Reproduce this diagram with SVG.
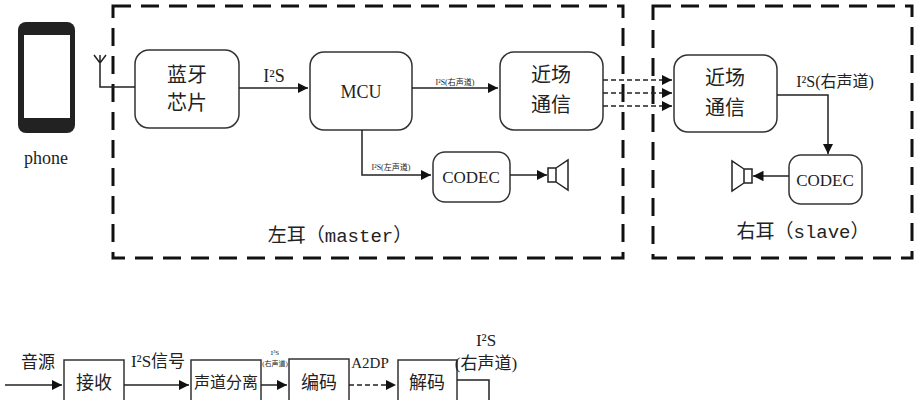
<svg xmlns="http://www.w3.org/2000/svg" width="917" height="400" viewBox="0 0 917 400">
<style>
.b{fill:#fff;stroke:#333;stroke-width:1.5}
.t{font-family:"Liberation Serif","Noto Sans CJK SC",serif;fill:#222;text-anchor:middle}
.m{font-family:"Liberation Mono","Noto Sans CJK SC",monospace;fill:#222;text-anchor:middle}
.l{fill:none;stroke:#222;stroke-width:1.5}
.d{fill:none;stroke:#222;stroke-width:1.5;stroke-dasharray:5,3}
.g{fill:none;stroke:#111;stroke-width:3;stroke-dasharray:18,10}
</style>
<defs>
<marker id="a" viewBox="0 0 10 10" refX="10" refY="5" markerWidth="7" markerHeight="7" orient="auto"><path d="M0,0L10,5L0,10z" fill="#111"/></marker>
</defs>
<rect width="917" height="400" fill="#fff"/>
<g id="groups">
<rect class="g" x="113" y="6" width="510" height="252"/>
<rect class="g" x="653" y="6" width="259" height="252"/>
<text class="m" x="340" y="242" font-size="19">左耳（master）</text>
<text class="m" x="803" y="238" font-size="19">右耳（slave）</text>
</g>
<g id="phone">
<rect x="18" y="22" width="57" height="111" rx="8" fill="#222"/>
<rect x="24" y="35" width="46" height="83" fill="#fff"/>
<text class="t" x="46" y="164" font-size="18">phone</text>
</g>
<g id="bt">
<rect class="b" x="135" y="50" width="104" height="78" rx="14"/>
<text class="t" x="187" y="82" font-size="20">蓝牙</text>
<text class="t" x="187" y="110" font-size="20">芯片</text>
</g>
<g id="mcu">
<rect class="b" x="310" y="52" width="102" height="78" rx="14"/>
<text class="t" x="361" y="98" font-size="18">MCU</text>
</g>
<g id="nfc1">
<rect class="b" x="500" y="52" width="103" height="78" rx="14"/>
<text class="t" x="551" y="82" font-size="20">近场</text>
<text class="t" x="551" y="112" font-size="20">通信</text>
</g>
<g id="codec1">
<rect class="b" x="433" y="152" width="77" height="50" rx="12"/>
<text class="t" x="471" y="183" font-size="17">CODEC</text>
</g>
<g id="spk1">
<path class="l" d="M548,168h8v14h-8zM556,168L568,160V190L556,182"/>
</g>
<g id="nfc2">
<rect class="b" x="674" y="55" width="103" height="77" rx="14"/>
<text class="t" x="725" y="85" font-size="20">近场</text>
<text class="t" x="725" y="115" font-size="20">通信</text>
</g>
<g id="codec2">
<rect class="b" x="789" y="155" width="73" height="49" rx="12"/>
<text class="t" x="825" y="186" font-size="17">CODEC</text>
</g>
<g id="spk2">
<path class="l" d="M752,169h-8v14h8zM744,169L732,161V191L744,183"/>
</g>
<g id="bottom">
<rect class="b" x="64" y="360" width="60" height="50"/>
<text class="t" x="94" y="389" font-size="18">接收</text>
<rect class="b" x="191" y="360" width="70" height="50"/>
<text class="t" x="226" y="388" font-size="16">声道分离</text>
<rect class="b" x="289" y="359" width="60" height="50"/>
<text class="t" x="319" y="389" font-size="18">编码</text>
<rect class="b" x="398" y="360" width="59" height="50"/>
<text class="t" x="427" y="389" font-size="18">解码</text>
<text class="t" x="38" y="368" font-size="17">音源</text>
<text class="t" x="158" y="367" font-size="17">I²S信号</text>
<text class="t" x="275" y="355" font-size="7">I²S</text>
<text class="t" x="275" y="366" font-size="7">(右声道)</text>
<text class="t" x="370" y="368" font-size="15">A2DP</text>
<text class="t" x="486" y="346" font-size="17">I²S</text>
<text class="t" x="486" y="369" font-size="17">(右声道)</text>
</g>
<g id="connectors">
<path class="l" d="M100,55V87H135M94,55L100,63L106,55M100,63V55"/>
<path class="l" d="M239,88H308" marker-end="url(#a)"/>
<text class="t" x="274" y="82" font-size="18">I²S</text>
<path class="l" d="M412,88H498" marker-end="url(#a)"/>
<text class="t" x="455" y="85" font-size="8">I²S(右声道)</text>
<path class="d" d="M603,80H672" marker-end="url(#a)"/>
<path class="d" d="M603,93H672" marker-end="url(#a)"/>
<path class="d" d="M603,106H672" marker-end="url(#a)"/>
<path class="l" d="M362,130V175H431" marker-end="url(#a)"/>
<text class="t" x="391" y="170" font-size="8">I²S(左声道)</text>
<path class="l" d="M510,175H547" marker-end="url(#a)"/>
<path class="l" d="M777,95H828V154" marker-end="url(#a)"/>
<text class="t" x="835" y="87" font-size="16">I²S(右声道)</text>
<path class="l" d="M789,176H753" marker-end="url(#a)"/>
<path class="l" d="M5,385H62" marker-end="url(#a)"/>
<path class="l" d="M124,385H189" marker-end="url(#a)"/>
<path class="l" d="M261,385H287" marker-end="url(#a)"/>
<path class="d" d="M349,385H396" marker-end="url(#a)"/>
<path class="l" d="M457,380H489V400"/>
</g>
</svg>
